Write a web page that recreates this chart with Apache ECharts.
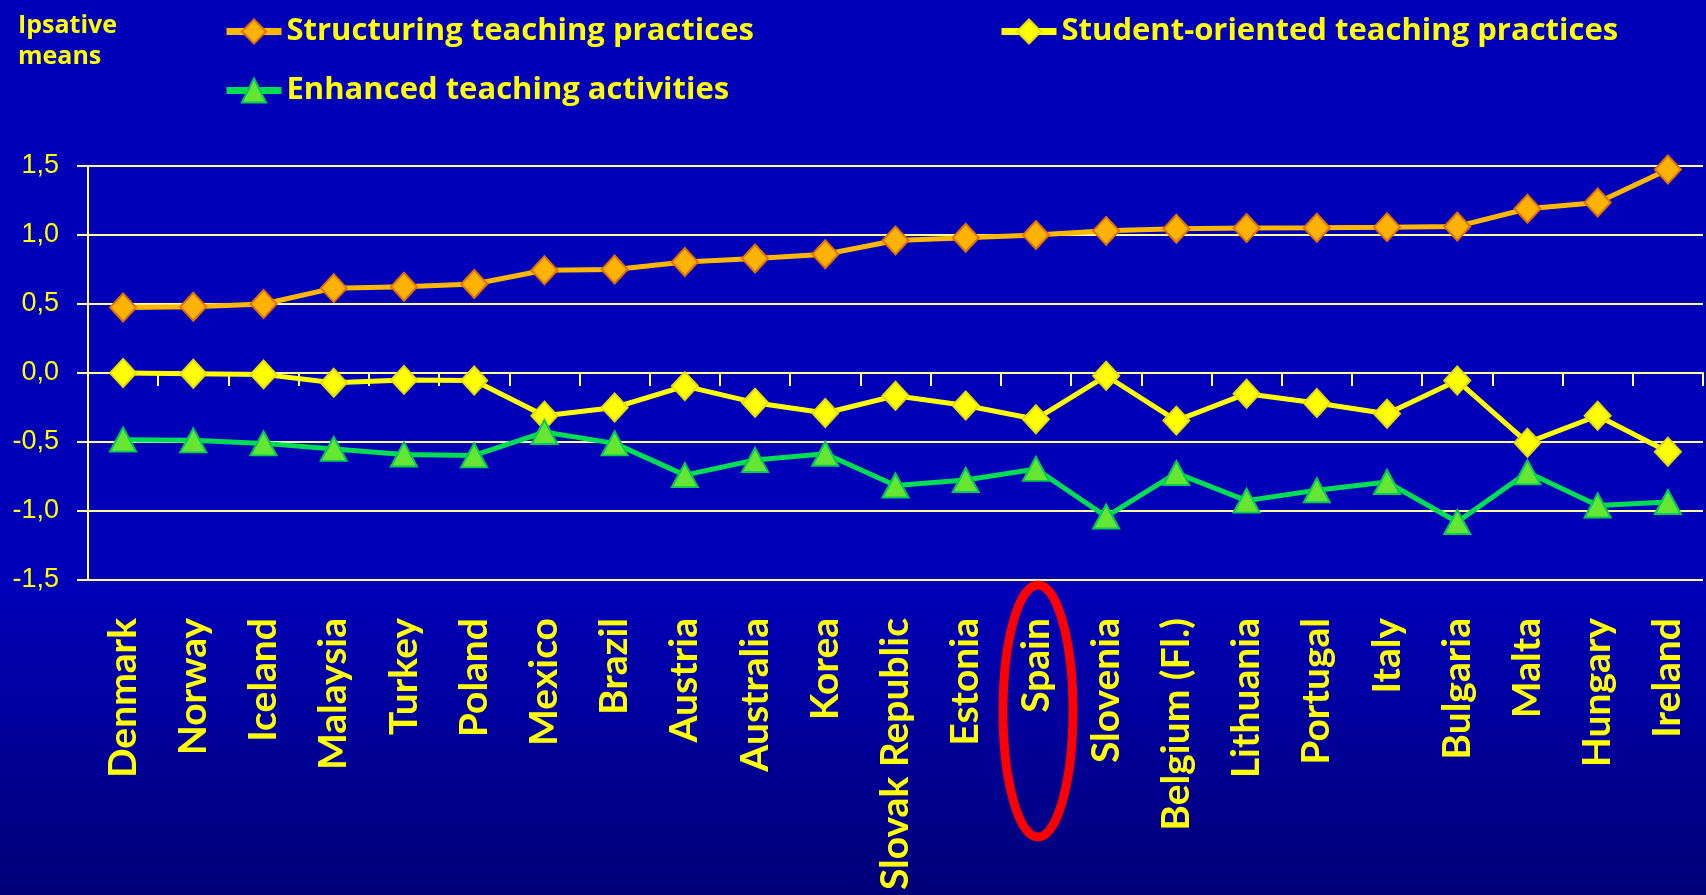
<!DOCTYPE html>
<html>
<head>
<meta charset="utf-8">
<script src="https://cdn.jsdelivr.net/npm/echarts@6/dist/echarts.min.js"></script>
<style>
html,body{margin:0;padding:0;width:1706px;height:895px;overflow:hidden;}
#c{width:1706px;height:895px;}
</style>
</head>
<body>
<div id="c"></div>
<script>
const categories = ["Denmark","Norway","Iceland","Malaysia","Turkey","Poland","Mexico","Brazil","Austria","Australia","Korea","Slovak Republic","Estonia","Spain","Slovenia","Belgium (Fl.)","Lithuania","Portugal","Italy","Bulgaria","Malta","Hungary","Ireland"];
const structuring = [0.475,0.48,0.50,0.615,0.625,0.645,0.745,0.75,0.805,0.83,0.86,0.96,0.98,1.00,1.03,1.045,1.05,1.053,1.057,1.062,1.19,1.235,1.475];
const studentOriented = [0.0,-0.005,-0.01,-0.07,-0.05,-0.055,-0.31,-0.25,-0.095,-0.215,-0.29,-0.165,-0.235,-0.335,-0.02,-0.345,-0.15,-0.217,-0.295,-0.055,-0.505,-0.31,-0.57];
const enhanced = [-0.483,-0.488,-0.51,-0.55,-0.59,-0.597,-0.428,-0.51,-0.74,-0.63,-0.585,-0.815,-0.775,-0.695,-1.04,-0.725,-0.925,-0.85,-0.79,-1.08,-0.72,-0.96,-0.935];
const seriesNames = ["Structuring teaching practices","Student-oriented teaching practices","Enhanced teaching activities"];
const yMin = -1.5, yMax = 1.5, yStep = 0.5;

const chart = echarts.init(document.getElementById('c'));
const legendText = {color:'#ffff00', fontFamily:'Open Sans', fontWeight:'bold', fontSize:31};
const legendCommon = {itemWidth:55, itemHeight:30, textStyle:legendText, lineStyle:{width:7}};
const option = {
  backgroundColor: {type:'linear', x:0, y:0, x2:0, y2:1, colorStops:[
    {offset:0, color:'#0000b8'},{offset:0.66, color:'#0000b8'},{offset:1, color:'#000078'}]},
  animation:false,
  title:{text:'Ipsative\nmeans', left:13, top:5, textStyle:{color:'#ffff00', fontFamily:'Open Sans', fontWeight:'bold', fontSize:25, lineHeight:31}},
  legend:[
    Object.assign({data:[seriesNames[0]], left:218, top:11}, legendCommon),
    Object.assign({data:[seriesNames[1]], left:993, top:11}, legendCommon),
    Object.assign({data:[seriesNames[2]], left:218, top:70}, legendCommon)
  ],
  grid:{left:88, right:3, top:166, bottom:315, containLabel:false},
  xAxis:[
    {type:'category', data:categories, position:'bottom', boundaryGap:true,
     axisLine:{show:false, onZero:false}, axisTick:{show:false},
     axisLabel:{rotate:90, margin:38, color:'#ffff00', fontFamily:'Lato', fontWeight:'bold', fontSize:39, interval:0},
     splitLine:{show:false}},
    {type:'category', data:categories, position:'bottom', boundaryGap:true,
     axisLine:{show:true, onZero:true, lineStyle:{color:'#ffffa0', width:2}},
     axisTick:{show:true, inside:false, length:13, interval:0, lineStyle:{color:'#ffffa0', width:2}},
     axisLabel:{show:false}, splitLine:{show:false}}
  ],
  yAxis:{type:'value', min:yMin, max:yMax, interval:yStep,
    axisLine:{show:true, lineStyle:{color:'#ffffa0', width:2}},
    axisTick:{show:true, length:11, lineStyle:{color:'#ffffa0', width:2}},
    axisLabel:{margin:29, color:'#ffff00', fontFamily:'Liberation Sans', fontSize:27,
      formatter:v=>v.toFixed(1).replace('.',',')},
    splitLine:{show:true, lineStyle:{color:'#ffffa0', width:2}}},
  series:[
    {name:seriesNames[0], type:'line', data:structuring, symbol:'diamond', symbolSize:[26,28],
     lineStyle:{color:'#ffb800', width:5}, itemStyle:{color:'#ffb300', borderColor:'#e07000', borderWidth:2}, z:3},
    {name:seriesNames[1], type:'line', data:studentOriented, symbol:'diamond', symbolSize:[26,28],
     lineStyle:{color:'#ffff00', width:5}, itemStyle:{color:'#ffff00', borderColor:'#e6dc00', borderWidth:2}, z:3},
    {name:seriesNames[2], type:'line', data:enhanced, symbol:'triangle', symbolSize:[26,24],
     lineStyle:{color:'#00dd55', width:5}, itemStyle:{color:'#66e633', borderColor:'#00cc55', borderWidth:2}, z:3}
  ],
  graphic:[
    {type:'ellipse', shape:{cx:1038, cy:711, rx:35, ry:126}, style:{fill:'none', stroke:'#ff0000', lineWidth:9}, z:10}
  ]
};
chart.setOption(option);
</script>
</body>
</html>
